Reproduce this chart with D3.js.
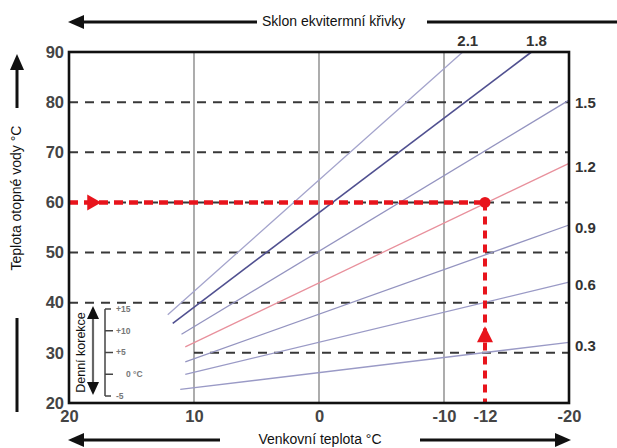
<!DOCTYPE html>
<html><head><meta charset="utf-8">
<script src="https://cdn.jsdelivr.net/npm/d3@7"></script>
<style>body{margin:0;background:#fff}svg{display:block}text{font-family:"Liberation Sans",Arial,sans-serif}</style>
</head><body><svg id="c" width="617" height="448"></svg>
<script>
// ---- data ----
const xTicks = [20, 10, 0, -10, -12, -20];
const yTicks = [20, 30, 40, 50, 60, 70, 80, 90];
const gridX = [10, 0, -10];
const dashY = [80, 70, 60, 50, 40];
const dashYPartial = [30];
const curveSlopes = ["2.1", "1.8", "1.5", "1.2", "0.9", "0.6", "0.3"];
const curveStartX = [12.1, 11.7, 11.0, 10.7, 10.7, 10.7, 11.1];
const curveStartY = [37.6, 35.9, 33.7, 31.2, 28.2, 25.7, 22.7];
const curveEndX   = [-11.5, -17.0, -20, -20, -20, -20, -20];
const curveEndY   = [90, 90, 80.4, 67.8, 55.5, 44.1, 32.1];
const curveColors = ["#a4a4cc", "#505090", "#9494c0", "#e8909c", "#9494c0", "#9a9ac6", "#9a9ac6"];
const redOutdoor = -12, redWater = 60;
const korekceTicks = [15, 10, 5, 0, -5];
const korekceLabels = ["+15", "+10", "+5", "0  °C", "-5"];

// ---- layout ----
const svg = d3.select("#c");
const L = 69, R = 569, T = 52, B = 403;
const xLin = d3.scaleLinear().domain([20, -20]).range([L, R]);
const xAx = d3.scaleLinear().domain([20, -10, -12, -20]).range([L, xLin(-10), 485, R]);
const y = d3.scaleLinear().domain([20, 90]).range([B, T]);

function arrowHead(x, yy, dir, len, half, color) {
  let pts;
  if (dir === "left") pts = [[x, yy], [x + len, yy - half], [x + len, yy + half]];
  if (dir === "right") pts = [[x, yy], [x - len, yy - half], [x - len, yy + half]];
  if (dir === "up") pts = [[x, yy], [x - half, yy + len], [x + half, yy + len]];
  if (dir === "down") pts = [[x, yy], [x - half, yy - len], [x + half, yy - len]];
  svg.append("path").attr("d", "M" + pts.map(p => p.join(",")).join("L") + "Z").attr("fill", color);
}

// grid verticals
svg.append("g").selectAll("line").data(gridX).join("line")
  .attr("x1", d => xLin(d)).attr("x2", d => xLin(d)).attr("y1", T).attr("y2", B)
  .attr("stroke", "#808080").attr("stroke-width", 1.3);

// dashed horizontals
svg.append("g").selectAll("line").data(dashY).join("line")
  .attr("x1", L).attr("x2", R).attr("y1", d => y(d)).attr("y2", d => y(d))
  .attr("stroke", "#383838").attr("stroke-width", 2).attr("stroke-dasharray", "9,7");
svg.append("g").selectAll("line").data(dashYPartial).join("line")
  .attr("x1", xLin(10)).attr("x2", R).attr("y1", d => y(d)).attr("y2", d => y(d))
  .attr("stroke", "#383838").attr("stroke-width", 2).attr("stroke-dasharray", "9,7");

// curves
const curves = curveSlopes.map((s, i) => ({ s, x0: curveStartX[i], y0: curveStartY[i], x1: curveEndX[i], y1: curveEndY[i], c: curveColors[i] }));
svg.append("g").selectAll("line").data(curves).join("line")
  .attr("x1", d => xLin(d.x0)).attr("y1", d => y(d.y0))
  .attr("x2", d => xLin(d.x1)).attr("y2", d => y(d.y1))
  .attr("stroke", d => d.c).attr("stroke-width", d => d.s === "1.8" ? 1.6 : 1.3);

// curve labels
svg.append("g").selectAll("text").data(curves).join("text")
  .attr("x", d => d.y1 >= 90 ? xLin(d.x1) + 5 : R + 6)
  .attr("y", d => d.y1 >= 90 ? T - 6 : y(d.y1) + 3)
  .attr("dy", d => d.y1 >= 90 ? 0 : "0.35em")
  .attr("text-anchor", d => d.y1 >= 90 ? "middle" : "start")
  .attr("font-size", 15).attr("font-weight", "bold").attr("fill", "#333")
  .text(d => d.s);

// red marker
const rx = xAx(redOutdoor), ry = y(redWater);
svg.append("line").attr("x1", L).attr("x2", rx).attr("y1", ry).attr("y2", ry)
  .attr("stroke", "#e8141c").attr("stroke-width", 4.5).attr("stroke-dasharray", "9,6");
svg.append("line").attr("x1", rx).attr("x2", rx).attr("y1", ry).attr("y2", B)
  .attr("stroke", "#e8141c").attr("stroke-width", 4).attr("stroke-dasharray", "8,6");
svg.append("circle").attr("cx", rx).attr("cy", ry).attr("r", 5.5).attr("fill", "#e8141c");
arrowHead(xLin(17.5) + 1, ry, "right", 14, 8, "#e8141c");
arrowHead(rx, y(35.3), "up", 16, 8, "#e8141c");

// frame
svg.append("rect").attr("x", L).attr("y", T).attr("width", R - L).attr("height", B - T)
  .attr("fill", "none").attr("stroke", "#111").attr("stroke-width", 2.6);

// axes
const yAxis = svg.append("g").attr("transform", `translate(${L},0)`)
  .call(d3.axisLeft(y).tickValues(yTicks).tickSize(0).tickPadding(5));
yAxis.select(".domain").remove();
yAxis.selectAll("text").attr("font-size", 16.5).attr("font-weight", "bold").attr("fill", "#444")
  .style("font-family", "Liberation Sans, Arial, sans-serif");

const xAxis = svg.append("g").attr("transform", `translate(0,${B})`)
  .call(d3.axisBottom(xAx).tickValues(xTicks).tickSize(0).tickPadding(7).tickFormat(d => String(d)));
xAxis.select(".domain").remove();
xAxis.selectAll("text").attr("font-size", 16.5).attr("font-weight", "bold").attr("fill", "#444")
  .style("font-family", "Liberation Sans, Arial, sans-serif");

// top arrow + title
svg.append("line").attr("x1", 80).attr("x2", 257).attr("y1", 22).attr("y2", 22).attr("stroke", "#111").attr("stroke-width", 3);
arrowHead(68, 22, "left", 16, 7, "#111");
svg.append("text").attr("x", 262).attr("y", 26).attr("font-size", 14).attr("fill", "#111").text("Sklon ekvitermní křivky");
svg.append("line").attr("x1", 427).attr("x2", 617).attr("y1", 22).attr("y2", 22).attr("stroke", "#111").attr("stroke-width", 3);

// left axis arrow + title
svg.append("line").attr("x1", 17).attr("x2", 17).attr("y1", 66).attr("y2", 108).attr("stroke", "#111").attr("stroke-width", 3);
arrowHead(17, 54, "up", 16, 7, "#111");
svg.append("text").attr("transform", "translate(21,198) rotate(-90)").attr("text-anchor", "middle")
  .attr("font-size", 14).attr("fill", "#111").text("Teplota otopné vody °C");
svg.append("line").attr("x1", 17).attr("x2", 17).attr("y1", 318).attr("y2", 412).attr("stroke", "#111").attr("stroke-width", 3);

// bottom arrows + title
svg.append("line").attr("x1", 80).attr("x2", 220).attr("y1", 440).attr("y2", 440).attr("stroke", "#111").attr("stroke-width", 3);
arrowHead(68, 440, "left", 16, 7, "#111");
svg.append("line").attr("x1", 420).attr("x2", 558).attr("y1", 440).attr("y2", 440).attr("stroke", "#111").attr("stroke-width", 3);
arrowHead(571, 440, "right", 16, 7, "#111");
svg.append("text").attr("x", 320).attr("y", 444).attr("text-anchor", "middle").attr("font-size", 14).attr("fill", "#111").text("Venkovní teplota °C");

// inset: Denní korekce
const k = d3.scaleLinear().domain([15, -5]).range([309, 396]);
svg.append("text").attr("transform", `translate(85,${(k(15) + k(-5)) / 2}) rotate(-90)`).attr("text-anchor", "middle")
  .attr("font-size", 12.5).attr("fill", "#111").text("Denní korekce");
svg.append("line").attr("x1", 93).attr("x2", 93).attr("y1", k(15) + 8).attr("y2", k(-5) - 8).attr("stroke", "#666").attr("stroke-width", 2.2);
arrowHead(93, k(15) - 3, "up", 13, 6, "#111");
arrowHead(93, k(-5) - 1, "down", 13, 6, "#111");
svg.append("line").attr("x1", 105).attr("x2", 105).attr("y1", k(15)).attr("y2", k(-5)).attr("stroke", "#444").attr("stroke-width", 1.5);
svg.append("g").selectAll("line").data(korekceTicks).join("line")
  .attr("x1", 105).attr("x2", d => (d === 15 || d === -5) ? 111 : 113).attr("y1", d => k(d)).attr("y2", d => k(d))
  .attr("stroke", "#444").attr("stroke-width", 1.5);
svg.append("g").selectAll("text").data(korekceTicks).join("text")
  .attr("x", d => d === 0 ? 126 : 116).attr("y", d => k(d)).attr("dy", "0.35em")
  .attr("font-size", 8.5).attr("font-weight", "bold").attr("fill", "#777")
  .text((d, i) => korekceLabels[i]);
</script></body></html>
